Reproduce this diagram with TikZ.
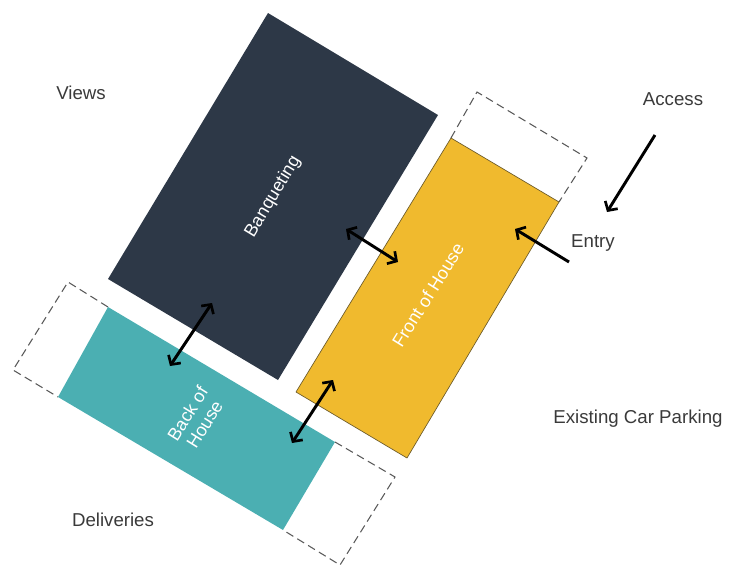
\documentclass[tikz,border=0pt]{standalone}
\usepackage{fontspec}
\setmainfont{Liberation Sans}
\usetikzlibrary{arrows.meta}
\definecolor{navy}{HTML}{2D3847}
\definecolor{tealc}{HTML}{4BAFB2}
\definecolor{yel}{HTML}{F0BA2E}
\definecolor{yedge}{HTML}{6B5A2A}
\definecolor{txt}{HTML}{3A3A3A}
\definecolor{dashc}{HTML}{5A5A5A}
\tikzset{
  outlbl/.style={text=txt, font=\fontsize{14}{16}\selectfont, inner sep=0pt},
  inlbl/.style={text=white, font=\fontsize{13.5}{15}\selectfont, inner sep=0pt, align=center},
  zone/.style={draw=dashc, line width=0.8pt, dash pattern=on 6pt off 3.5pt},
  barb/.tip={Straight Barb[length=5pt,width=11pt,line width=2pt]},
  link/.style={line width=2.2pt, black, barb-barb},
  onedir/.style={line width=2.2pt, black, -barb}
}
\begin{document}
\begin{tikzpicture}[x=0.75pt,y=-0.75pt]
\useasboundingbox (0,0) rectangle (729,568);
% corner coordinates
\coordinate (B1) at (268,13);  \coordinate (B2) at (438,115);
\coordinate (B3) at (278,380); \coordinate (B4) at (108,279);
\coordinate (T1) at (108,307); \coordinate (T2) at (335,442);
\coordinate (T3) at (283,530); \coordinate (T4) at (58,397);
\coordinate (D1) at (68,282);  \coordinate (D2) at (395,477);
\coordinate (D3) at (340,565); \coordinate (D4) at (13,370);
\coordinate (Y1) at (451,138); \coordinate (Y2) at (559,202);
\coordinate (Y3) at (407,458); \coordinate (Y4) at (296,392);
\coordinate (F1) at (477,92);  \coordinate (F2) at (587,158);
% dashed zones
\draw[zone] (T1) -- (D1) -- (D4) -- (T4);
\draw[zone] (T2) -- (D2) -- (D3) -- (T3);
\draw[zone] (Y1) -- (F1) -- (F2) -- (Y2);
% blocks
\fill[navy] (B1) -- (B2) -- (B3) -- (B4) -- cycle;
\fill[tealc] (T1) -- (T2) -- (T3) -- (T4) -- cycle;
\filldraw[fill=yel, draw=yedge, line width=0.5pt] (Y1) -- (Y2) -- (Y3) -- (Y4) -- cycle;
% inside labels
\node[inlbl, rotate=59] (banq) at (273,197) {Banqueting};
\node[inlbl, rotate=58] (foh) at (428,295) {Front of House};
\node[inlbl, rotate=58] (boh) at (196,419) {Back of\\House};
% outside labels
\node[outlbl] (views) at (81,93) {Views};
\node[outlbl] (access) at (673,99) {Access};
\node[outlbl] (entry) at (593,243) {Entry};
\node[outlbl] (parking) at (638,419) {Existing Car Parking};
\node[outlbl] (deliv) at (113,520) {Deliveries};
% arrow end points
\coordinate (a1s) at (346,229); \coordinate (a1e) at (398,262);
\coordinate (a2s) at (212,303); \coordinate (a2e) at (170,366);
\coordinate (a3s) at (333,380); \coordinate (a3e) at (292,443);
\coordinate (ens) at (569,262); \coordinate (ene) at (515,229);
\coordinate (acs) at (655,135); \coordinate (ace) at (607,212);
\draw[link] (a1s) -- (a1e);
\draw[link] (a2s) -- (a2e);
\draw[link] (a3s) -- (a3e);
\draw[onedir] (ens) -- (ene);
\draw[onedir] (acs) -- (ace);
\end{tikzpicture}
\end{document}
